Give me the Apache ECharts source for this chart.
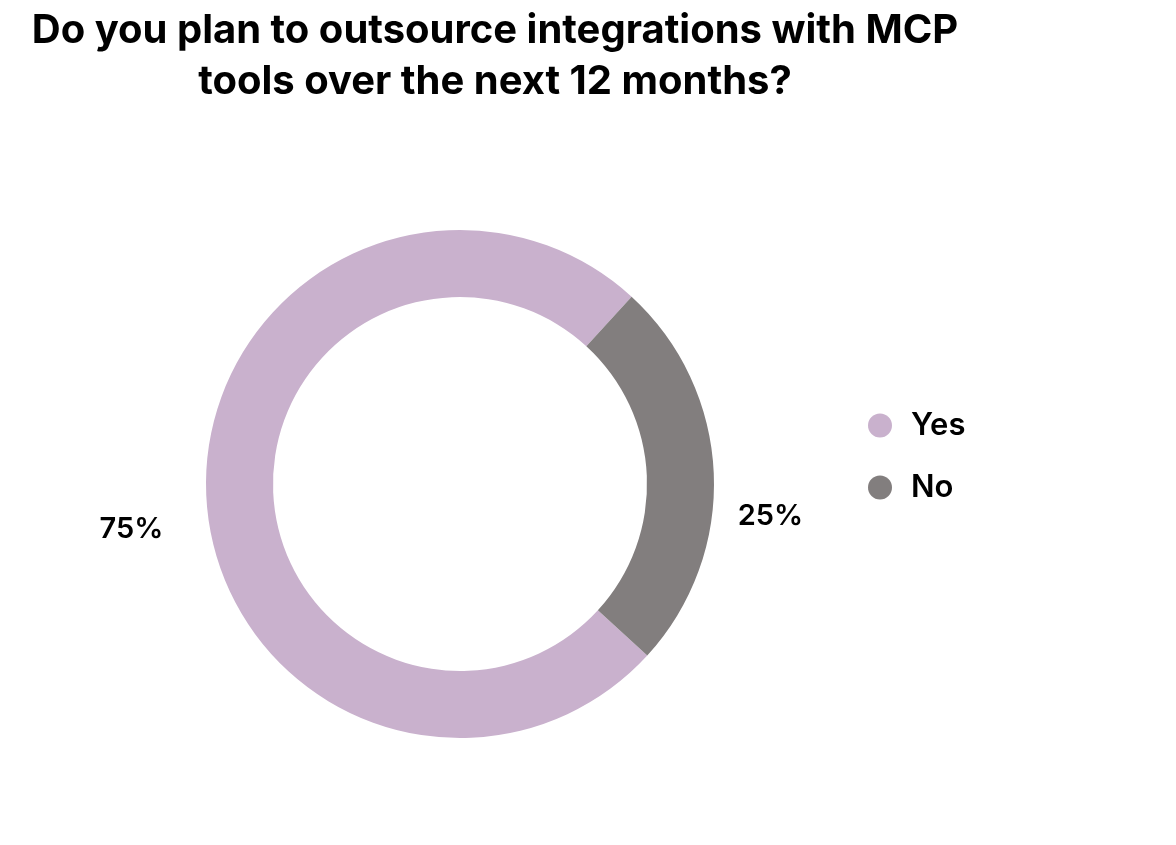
<!DOCTYPE html>
<html>
<head>
<meta charset="utf-8">
<script src="https://cdn.jsdelivr.net/npm/echarts@6/dist/echarts.min.js"></script>
<style>
  html, body { margin: 0; padding: 0; background: #fff; }
  #chart { width: 1176px; height: 845px; }
</style>
</head>
<body>
<div id="chart"></div>
<script>
const categories = ['Yes', 'No'];
const shares = [75, 25];
const colors = ['#c9b1cd', '#827e7e'];

const titleText = 'Do you plan to outsource integrations with MCP\ntools over the next 12 months?';

const getOption = () => {
  return {
    color: colors,
    title: {
      text: titleText,
      left: 490,
      top: 0,
      textAlign: 'center',
      textStyle: {
        fontFamily: 'Inter',
        fontSize: 40,
        fontWeight: 'bold',
        color: '#000',
        lineHeight: 51
      }
    },
    legend: {
      orient: 'vertical',
      left: 863,
      top: 405,
      padding: 5,
      icon: 'circle',
      itemWidth: 24,
      itemHeight: 24,
      itemGap: 31,
      textStyle: {
        fontFamily: 'Inter',
        fontSize: 31,
        fontWeight: 600,
        color: '#000',
        padding: [0, 0, 0, 14]
      },
      data: categories
    },
    series: [
      {
        type: 'pie',
        center: [460, 484],
        radius: [187, 254],
        startAngle: -42.5,
        clockwise: true,
        silent: true,
        label: {
          show: true,
          position: 'outside',
          formatter: (p) => p.value + '%',
          fontFamily: 'Inter',
          fontSize: 29,
          fontWeight: 600,
          color: '#000'
        },
        labelLine: {
          show: false,
          length: 30,
          length2: 0
        },
        labelLayout: (params) => params.dataIndex === 0
          ? { dx: -8, dy: 33 }
          : { dx: -11, dy: 45 },
        data: categories.map((name, i) => ({ name: name, value: shares[i] }))
      }
    ]
  };
};

const initChart = () => {
  const chart = echarts.init(document.getElementById('chart'));
  chart.setOption(getOption());
};

window.addEventListener('load', () => {
  initChart();
});
</script>
</body>
</html>
